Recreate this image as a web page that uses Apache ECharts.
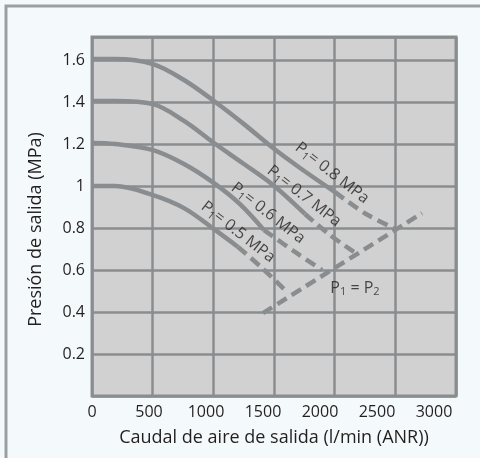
<!DOCTYPE html>
<html><head><meta charset="utf-8">
<style>html,body{margin:0;padding:0;background:#f4fafb;}#c{width:480px;height:458px;}</style>
<script src="https://cdn.jsdelivr.net/npm/echarts@6/dist/echarts.min.js"></script>
</head><body><div id="c"></div><script>
// ---- data (x: l/min ANR, y: MPa) ----
const xTickLabels = [0, 500, 1000, 1500, 2000, 2500, 3000];
const yTickLabels = [0.2, 0.4, 0.6, 0.8, 1, 1.2, 1.4, 1.6];

const p08Solid = [[0,1.605],[202,1.605],[535,1.581],[807,1.505],[1070,1.405],[1333,1.295],[1588,1.181],[1825,1.086],[2132,0.971]];
const p08Dash  = [[2132,0.971],[2404,0.867],[2667,0.795]];
const p07Solid = [[0,1.405],[202,1.405],[535,1.39],[807,1.31],[1070,1.205],[1333,1.105],[1588,1.005],[1868,0.867]];
const p07Dash  = [[1868,0.867],[2088,0.767],[2325,0.676]];
const p06Solid = [[0,1.205],[202,1.2],[535,1.171],[807,1.105],[1070,1.014],[1298,0.914],[1509,0.79]];
const p06Dash  = [[1509,0.79],[1781,0.686],[2018,0.6]];
const p05Solid = [[0,1.0],[202,1.0],[535,0.957],[807,0.895],[1070,0.795],[1281,0.71]];
const p05Dash  = [[1281,0.71],[1491,0.61],[1711,0.495]];
const p1EqP2   = [[1500,0.395],[2895,0.871]];

const curveLabels = ['0.8', '0.7', '0.6', '0.5'];
const curveLabelPos = [[2105,1.062],[1860,0.952],[1544,0.871],[1281,0.781]];
const p1p2LabelPos = [2307,0.514];

// ---- styling ----
const GRAY = '#8a8d8f';
const TEXT = '#231f20';
const FONT = 'Open Sans';

function solid(data){ return {type:'line', data, smooth:0.35, symbol:'none',
  lineStyle:{color:GRAY, width:4.5, cap:'butt'}, silent:true, z:3}; }
function dashed(data){ return {type:'line', data, smooth:0.35, symbol:'none',
  lineStyle:{color:GRAY, width:4.5, type:[11,6], cap:'butt'}, silent:true, z:3}; }

const rich = {
  m:{fontFamily:FONT, fontSize:16, color:TEXT, lineHeight:19},
  s:{fontFamily:FONT, fontSize:11, color:TEXT, lineHeight:19, verticalAlign:'bottom'}
};

const chart = echarts.init(document.getElementById('c'), null, {renderer:'canvas'});
chart.setOption({
  backgroundColor:'#f4fafb',
  animation:false,
  graphic:[{type:'rect', shape:{x:6, y:6, width:700, height:700}, style:{fill:null, stroke:'#9c9fa0', lineWidth:3}, z:-1}],
  grid:{left:92, right:24, top:37, bottom:62, show:true, backgroundColor:'#d1d1d1', borderColor:GRAY, borderWidth:3},
  xAxis:[{
    type:'value', min:0, max:3193, interval:500,
    axisLine:{show:false}, axisTick:{show:false}, splitLine:{show:false},
    axisLabel:{showMaxLabel:false, margin:8, color:TEXT, fontFamily:FONT, fontSize:16,
      formatter:v => xTickLabels.includes(v) ? String(v) : ''},
    name:'Caudal de aire de salida (l/min (ANR))', nameLocation:'middle', nameGap:33,
    nameTextStyle:{color:TEXT, fontFamily:FONT, fontSize:18}
  },{
    type:'value', min:0, max:3000, interval:500, position:'bottom',
    axisLine:{show:false}, axisTick:{show:false}, axisLabel:{show:false},
    splitLine:{show:true, lineStyle:{color:GRAY, width:2.5}}
  }],
  yAxis:{
    type:'value', min:0, max:1.71, interval:0.2,
    axisLine:{show:false}, axisTick:{show:false},
    splitLine:{show:true, lineStyle:{color:GRAY, width:2.5}},
    axisLabel:{margin:7, color:TEXT, fontFamily:FONT, fontSize:16,
      formatter:v => { const t = yTickLabels.find(k => Math.abs(k-v)<1e-6); return t===undefined ? '' : String(t); }},
    name:'{t|Presión de salida (MPa)}{pad|}', nameLocation:'middle', nameGap:47,
    nameTextStyle:{color:TEXT, fontFamily:FONT, fontSize:18,
      rich:{t:{color:TEXT, fontFamily:FONT, fontSize:18}, pad:{width:26}}}
  },
  series:[
    solid(p08Solid), dashed(p08Dash),
    solid(p07Solid), dashed(p07Dash),
    solid(p06Solid), dashed(p06Dash),
    solid(p05Solid), dashed(p05Dash),
    dashed(p1EqP2),
    {type:'scatter', symbolSize:0, silent:true, z:5,
      data: curveLabels.map((t,i) => ({value:curveLabelPos[i], name:t})),
      label:{show:true, position:'inside', rotate:-38, align:'center', verticalAlign:'middle',
        formatter: p => '{m|P}{s|1}{m|= ' + p.name + ' MPa}', rich}},
    {type:'scatter', symbolSize:0, silent:true, z:5,
      data:[{value:p1p2LabelPos}],
      label:{show:true, position:'inside', align:'center', verticalAlign:'middle',
        formatter: () => '{m|P}{s|1}{m| = P}{s|2}', rich}}
  ]
});
</script></body></html>
